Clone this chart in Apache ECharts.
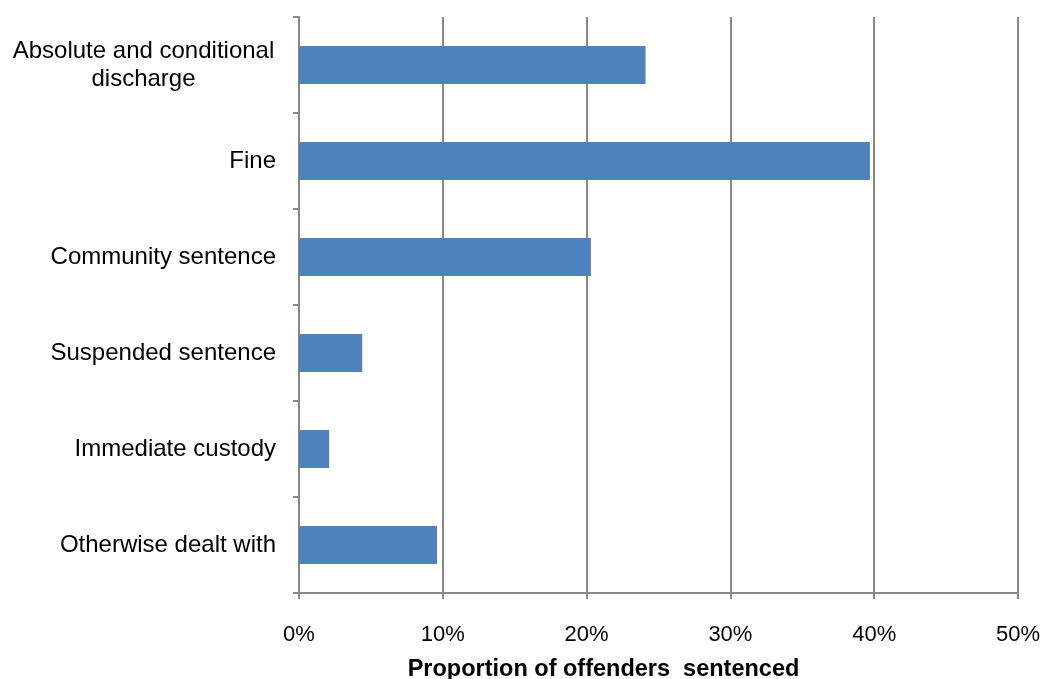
<!DOCTYPE html>
<html>
<head>
<meta charset="utf-8">
<script src="https://cdn.jsdelivr.net/npm/echarts@6/dist/echarts.min.js"></script>
<style>
  html, body { margin: 0; padding: 0; background: #fff; }
  #chart { width: 1043px; height: 679px; }
</style>
</head>
<body>
<div id="chart"></div>
<script>
var categories = [
    'Absolute and conditional\ndischarge',
    'Fine',
    'Community sentence',
    'Suspended sentence',
    'Immediate custody',
    'Otherwise dealt with'
];
var proportions = [24.1, 39.7, 20.3, 4.4, 2.1, 9.6];
var tickValues = [0, 10, 20, 30, 40, 50];

var gridGrey = '#888888';
var fontName = 'Liberation Sans, Arial, sans-serif';

var myChart = echarts.init(document.getElementById('chart'));

option = {
    animation: false,
    grid: {
        left: 299,
        right: 25,
        top: 17,
        bottom: 86,
        containLabel: false,
        outerBoundsMode: 'none'
    },
    xAxis: {
        type: 'value',
        min: tickValues[0],
        max: tickValues[tickValues.length - 1],
        interval: 10,
        name: 'Proportion of offenders  sentenced',
        nameLocation: 'middle',
        nameGap: 65,
        nameTextStyle: {
            fontFamily: fontName,
            fontSize: 23.5,
            fontWeight: 'bold',
            color: '#000',
            verticalAlign: 'top',
            padding: [0, 110, 0, 0]
        },
        axisLine: { show: true, lineStyle: { color: gridGrey, width: 2 } },
        axisTick: { show: true, length: 6, lineStyle: { color: gridGrey, width: 2 } },
        axisLabel: {
            margin: 31,
            fontFamily: fontName,
            fontSize: 22,
            color: '#000',
            formatter: '{value}%'
        },
        splitLine: { show: true, lineStyle: { color: gridGrey, width: 2 } }
    },
    yAxis: {
        type: 'category',
        inverse: true,
        data: categories,
        axisLine: { show: true, lineStyle: { color: gridGrey, width: 2 } },
        axisTick: { show: true, length: 6, lineStyle: { color: gridGrey, width: 2 } },
        axisLabel: {
            margin: 23,
            fontFamily: fontName,
            fontSize: 24,
            color: '#000',
            lineHeight: 28,
            formatter: function (value) {
                if (value.indexOf('\n') < 0) {
                    return value;
                }
                return value.split('\n').map(function (l) {
                    return '{c|' + l + '}';
                }).join('\n');
            },
            rich: {
                c: {
                    width: 265,
                    align: 'center',
                    fontFamily: fontName,
                    fontSize: 24,
                    lineHeight: 28,
                    color: '#000'
                }
            }
        }
    },
    series: [{
        type: 'bar',
        data: proportions,
        barWidth: 38,
        itemStyle: {
            color: '#4F81BD'
        }
    }]
};

myChart.setOption(option);
</script>
</body>
</html>
